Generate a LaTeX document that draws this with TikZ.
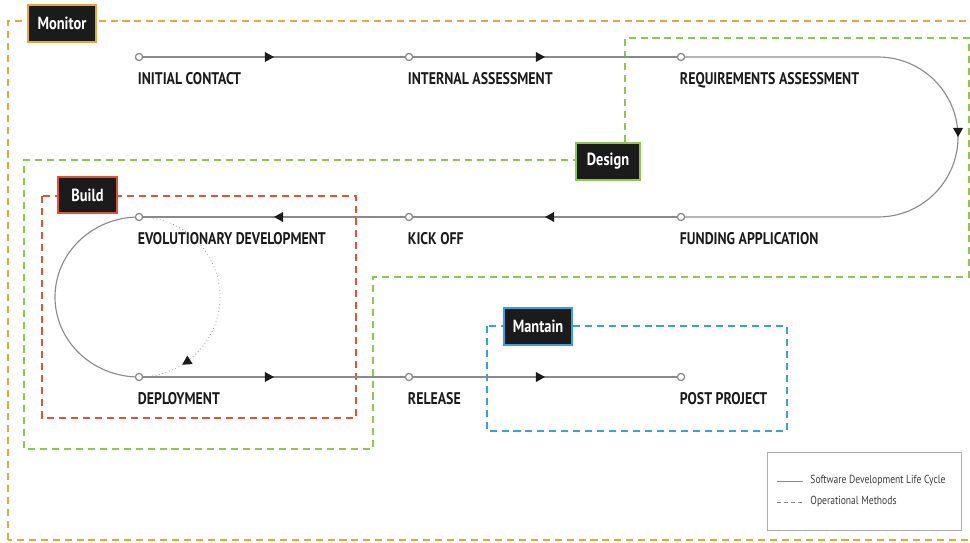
\documentclass[tikz,border=0pt]{standalone}
\usepackage{fontspec}
\setmainfont{PT Sans}[FakeStretch=0.82]
\usetikzlibrary{positioning,arrows.meta,decorations.markings}

\definecolor{monitorc}{HTML}{E9A53C}
\definecolor{designc}{HTML}{8DC84E}
\definecolor{buildc}{HTML}{E0553A}
\definecolor{maintainc}{HTML}{3B9FDD}
\definecolor{flowc}{HTML}{8A8A8A}
\definecolor{tagc}{HTML}{1B1B1B}

\begin{document}
\begin{tikzpicture}[x=0.025cm,y=0.025cm]

    \tikzset{
      stage/.style={
        circle,
        draw=flowc,
        fill=white,
        line width=0.8pt,
        inner sep=0pt,
        minimum size=5pt,
      },
      stagelabel/.style={
        font=\fontsize{12}{14}\selectfont\bfseries,
        text=tagc,
        inner sep=0pt,
        anchor=north west,
      },
      flow/.style={
        draw=flowc,
        line width=0.8pt,
      },
      midarrow/.style={
        postaction={decorate},
        decoration={markings,
          mark=at position #1 with {\arrow[tagc]{Triangle[length=6.5pt,width=7pt]}}},
      },
      phase/.style={
        dashed,
        dash pattern=on 5pt off 3.5pt,
        line width=1.1pt,
      },
      phasetag/.style={
        fill=tagc,
        text=white,
        line width=1.4pt,
        font=\fontsize{12.5}{14}\selectfont\bfseries,
        minimum height=26pt,
        inner sep=0pt,
      },
    }
    \clip (0,0) rectangle (970,542);
    \useasboundingbox (0,0) rectangle (970,542);

    % operational methods
	\draw[phase,draw=monitorc] (8,2) rectangle (985,521);
	\draw[phase,draw=designc] (625,400) -- (625,504) -- (969,504) -- (969,265) -- (373,265) -- (373,93) -- (24,93) -- (24,382) -- (576,382);
	\draw[phase,draw=buildc] (42,346) rectangle (356,124);
	\draw[phase,draw=maintainc] (487,216) rectangle (787,111);

    % life cycle
	\node[stage] (ic) at (139,485) {};
	\node[stage] (ia) at (409,485) {};
	\node[stage] (ra) at (681,485) {};
	\node[stage] (fa) at (681,325) {};
	\node[stage] (ko) at (409,325) {};
	\node[stage] (ed) at (139,325) {};
	\node[stage] (dp) at (139,165) {};
	\node[stage] (rl) at (409,165) {};
	\node[stage] (pp) at (681,165) {};

	\draw[flow,midarrow=0.5] (ic) -- (ia);
	\draw[flow,midarrow=0.5] (ia) -- (ra);
	\draw[flow,midarrow=0.5] (ra) -- (878,485) arc[start angle=90,end angle=-90,radius=80] -- (fa);
	\draw[flow,midarrow=0.5] (fa) -- (ko);
	\draw[flow,midarrow=0.5] (ko) -- (ed);
	\draw[flow] (ed.center) arc[start angle=90,end angle=270,x radius=84,y radius=80];
	\draw[flow,line width=0.5pt,dotted,midarrow=0.82] (ed.center) arc[start angle=90,end angle=-90,x radius=81,y radius=80];
	\draw[flow,midarrow=0.5] (dp) -- (rl);
	\draw[flow,midarrow=0.5] (rl) -- (pp);
	\foreach \s in {ic,ia,ra,fa,ko,ed,dp,rl,pp}
	  \node[stage] at (\s) {};

	\node[stagelabel,below right=8.5pt and -3pt of ic] (icl) {INITIAL CONTACT};
	\node[stagelabel,below right=8.5pt and -3pt of ia] (ial) {INTERNAL ASSESSMENT};
	\node[stagelabel,below right=8.5pt and -3pt of ra] (ral) {REQUIREMENTS ASSESSMENT};
	\node[stagelabel,below right=8.5pt and -3pt of fa] (fal) {FUNDING APPLICATION};
	\node[stagelabel,below right=8.5pt and -3pt of ko] (kol) {KICK OFF};
	\node[stagelabel,below right=8.5pt and -3pt of ed] (edl) {EVOLUTIONARY DEVELOPMENT};
	\node[stagelabel,below right=8.5pt and -3pt of dp] (dpl) {DEPLOYMENT};
	\node[stagelabel,below right=8.5pt and -3pt of rl] (rll) {RELEASE};
	\node[stagelabel,below right=8.5pt and -3pt of pp] (ppl) {POST PROJECT};

    % tags
	\node[phasetag,draw=monitorc,minimum width=48pt] (monitor) at (62,518.5) {Monitor};
	\node[phasetag,draw=designc,minimum width=45pt] (design) at (608,380.5) {Design};
	\node[phasetag,draw=buildc,minimum width=42pt] (build) at (87.5,347) {Build};
	\node[phasetag,draw=maintainc,minimum width=48pt] (maintain) at (538,215.5) {Mantain};

    % legend
	\draw[draw=flowc!70,fill=white,line width=0.6pt] (767,90) rectangle (961,12);
	\coordinate (sdla) at (777,61);
	\coordinate (oma) at (777,40);
	\draw[flow,line width=0.6pt] (sdla) -- ++(26,0) node[right=5pt,inner sep=0pt,font=\fontsize{8.3}{10}\selectfont,text=tagc!85] (sdl) {Software Development Life Cycle};
	\draw[flow,line width=0.6pt,dashed,dash pattern=on 3pt off 2pt] (oma) -- ++(26,0) node[right=5pt,inner sep=0pt,font=\fontsize{8.3}{10}\selectfont,text=tagc!85] (om) {Operational Methods};

\end{tikzpicture}
\end{document}
